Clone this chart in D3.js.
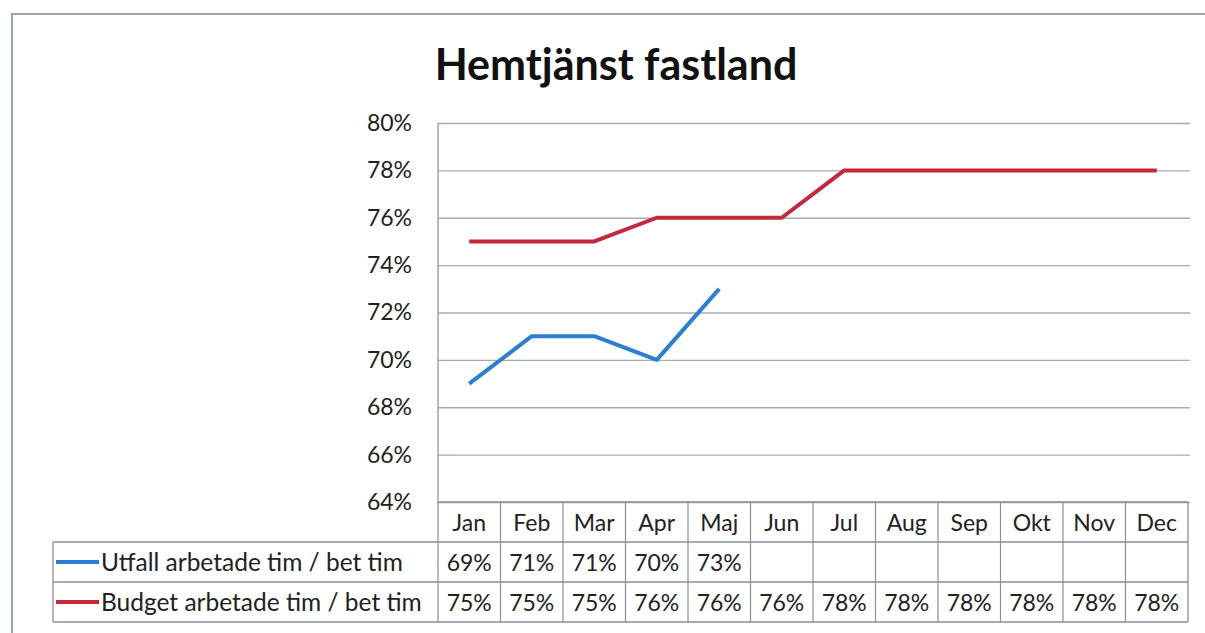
<!DOCTYPE html>
<html>
<head>
<meta charset="utf-8">
<script src="https://cdn.jsdelivr.net/npm/d3@7"></script>
<style>
    body { margin: 0; background: #fff; }
    text { font-family: Lato, "Open Sans", sans-serif; fill: #222; }
</style>
</head>
<body>
<svg id="chart" width="1205" height="633"></svg>
<script>
// chart data
var months = ["Jan", "Feb", "Mar", "Apr", "Maj", "Jun", "Jul", "Aug", "Sep", "Okt", "Nov", "Dec"];
var utfall = [0.69, 0.71, 0.71, 0.70, 0.73, null, null, null, null, null, null, null];
var budget = [0.75, 0.75, 0.75, 0.76, 0.76, 0.76, 0.78, 0.78, 0.78, 0.78, 0.78, 0.78];
var yTicks = [0.64, 0.66, 0.68, 0.70, 0.72, 0.74, 0.76, 0.78, 0.80];
var seriesNames = ["Utfall arbetade tim / bet tim", "Budget arbetade tim / bet tim"];
var seriesColors = ["#2b7fd2", "#c4283d"];

var svg = d3.select("#chart");

var plotLeft = 438,
    plotRight = 1188,
    plotTop = 123,
    plotBottom = 502,
    rowH = 40,
    legendLeft = 53;

// outer frame (runs off the right/bottom edge)
svg.append("rect")
    .attr("x", 12).attr("y", 14)
    .attr("width", 1400).attr("height", 800)
    .attr("fill", "#fff")
    .attr("stroke", "#9aa2ae")
    .attr("stroke-width", 2);

svg.append("text")
    .attr("x", 616).attr("y", 80)
    .attr("text-anchor", "middle")
    .style("font-size", "43px")
    .style("font-weight", "bold")
    .style("fill", "#111")
    .text("Hemtjänst fastland");

var xScale = d3.scaleBand()
    .domain(months)
    .range([plotLeft, plotRight]);

var yScale = d3.scaleLinear()
    .domain([0.64, 0.80])
    .range([plotBottom, plotTop]);

// gridlines + labels
var yAxis = d3.axisLeft(yScale)
    .tickValues(yTicks)
    .tickSize(-(plotRight + 2 - plotLeft))
    .tickPadding(26)
    .tickFormat(d3.format(".0%"));

var yG = svg.append("g")
    .attr("transform", "translate(" + plotLeft + ",0)")
    .call(yAxis);
yG.select(".domain").remove();
yG.selectAll(".tick line").attr("stroke", "#a3abb9").attr("stroke-width", 1.3);
yG.selectAll(".tick text")
    .style("font-size", "23px")
    .style("font-family", "Lato, sans-serif")
    .attr("fill", "#333");

// plot area left edge
svg.append("line")
    .attr("x1", plotLeft).attr("x2", plotLeft)
    .attr("y1", plotTop).attr("y2", plotBottom)
    .attr("stroke", "#8f97a4").attr("stroke-width", 1.3);

// lines
var line = d3.line()
    .defined(function (d) { return d != null; })
    .x(function (d, i) { return xScale(months[i]) + xScale.bandwidth() / 2; })
    .y(function (d) { return yScale(d); });

[utfall, budget].forEach(function (s, k) {
    svg.append("path")
        .datum(s)
        .attr("fill", "none")
        .attr("stroke", seriesColors[k])
        .attr("stroke-width", 4)
        .attr("stroke-linejoin", "round")
        .attr("d", line);
});

// data table
var tbl = svg.append("g");
var tableBottom = plotBottom + rowH * 3;
var gridCol = "#8a8f98";

// horizontal lines
tbl.append("line")
    .attr("x1", plotLeft).attr("x2", plotRight)
    .attr("y1", plotBottom).attr("y2", plotBottom)
    .attr("stroke", gridCol).attr("stroke-width", 1.3);
[1, 2, 3].forEach(function (r) {
    tbl.append("line")
        .attr("x1", legendLeft).attr("x2", plotRight)
        .attr("y1", plotBottom + rowH * r).attr("y2", plotBottom + rowH * r)
        .attr("stroke", gridCol).attr("stroke-width", 1.3);
});

// vertical lines
months.forEach(function (m) {
    tbl.append("line")
        .attr("x1", xScale(m)).attr("x2", xScale(m))
        .attr("y1", plotBottom).attr("y2", tableBottom)
        .attr("stroke", gridCol).attr("stroke-width", 1.2);
});
tbl.append("line")
    .attr("x1", plotRight).attr("x2", plotRight)
    .attr("y1", plotBottom).attr("y2", tableBottom)
    .attr("stroke", gridCol).attr("stroke-width", 1.3);
tbl.append("line")
    .attr("x1", legendLeft).attr("x2", legendLeft)
    .attr("y1", plotBottom + rowH).attr("y2", tableBottom)
    .attr("stroke", gridCol).attr("stroke-width", 1.3);

// month header
tbl.selectAll(".month")
    .data(months)
    .enter()
    .append("text")
    .attr("class", "month")
    .attr("x", function (d) { return xScale(d) + xScale.bandwidth() / 2; })
    .attr("y", plotBottom + 29)
    .attr("text-anchor", "middle")
    .style("font-size", "23px")
    .text(function (d) { return d; });

// rows
[utfall, budget].forEach(function (s, k) {
    var rowY = plotBottom + rowH * (k + 1);
    tbl.append("line")
        .attr("x1", legendLeft + 3).attr("x2", legendLeft + 46)
        .attr("y1", rowY + 20).attr("y2", rowY + 20)
        .attr("stroke", seriesColors[k]).attr("stroke-width", 4);
    tbl.append("text")
        .attr("x", legendLeft + 48)
        .attr("y", rowY + 29)
        .style("font-size", "24.5px")
        .text(seriesNames[k]);
    tbl.selectAll(".v" + k)
        .data(s)
        .enter()
        .append("text")
        .attr("x", function (d, i) { return xScale(months[i]) + xScale.bandwidth() / 2; })
        .attr("y", rowY + 29)
        .attr("text-anchor", "middle")
        .style("font-size", "23px")
        .text(function (d) { return d == null ? "" : d3.format(".0%")(d); });
});
</script>
</body>
</html>
